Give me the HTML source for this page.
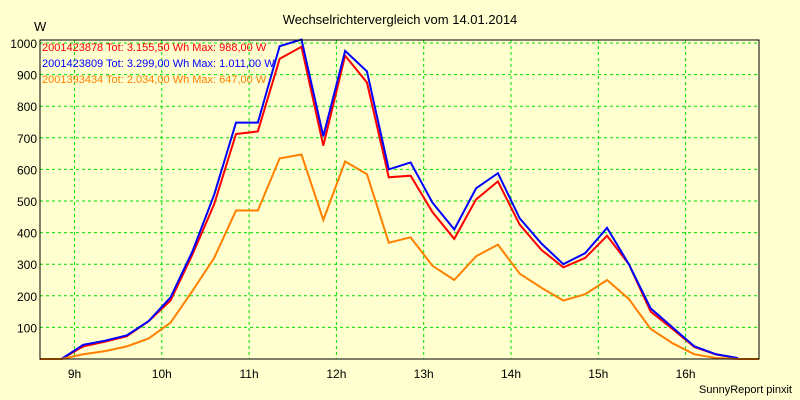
<!DOCTYPE html>
<html><head><meta charset="utf-8"><style>
body{margin:0;background:#ffffd0;}
svg{display:block;font-family:"Liberation Sans",sans-serif;}
</style></head><body>
<svg width="800" height="400">
<rect x="0" y="0" width="800" height="400" fill="#ffffd0"/>
<text x="400" y="24" font-size="13" text-anchor="middle" fill="#000">Wechselrichtervergleich vom 14.01.2014</text>
<text x="34" y="31" font-size="13" fill="#000">W</text>
<text x="792" y="393" font-size="11" text-anchor="end" fill="#000">SunnyReport pinxit</text>
<g id="grid"></g>
<g id="series"></g>
<rect x="40" y="40" width="719" height="319" fill="none" stroke="#000" stroke-width="1"/>
<g id="labels"></g>
<g font-size="11">
<text x="42" y="51" fill="#ff0000">2001423878 Tot: 3.155,50 Wh Max: 988,00 W</text>
<text x="42" y="67" fill="#0000ff">2001423809 Tot: 3.299,00 Wh Max: 1.011,00 W</text>
<text x="42" y="83" fill="#ff8000">2001393434 Tot: 2.034,00 Wh Max: 647,00 W</text>
</g>
</svg>
<script>
const times = [8.6,8.85,9.1,9.35,9.6,9.85,10.1,10.35,10.6,10.85,11.1,11.35,11.6,11.85,12.1,12.35,12.6,12.85,13.1,13.35,13.6,13.85,14.1,14.35,14.6,14.85,15.1,15.35,15.6,15.85,16.1,16.35,16.6];
const redVals = [0,0,40,55,72,120,185,330,490,712,720,950,988,675,960,875,575,580,465,380,505,562,425,345,290,320,390,300,150,95,38,14,3];
const blueVals = [0,0,45,58,75,120,195,340,520,748,748,990,1011,705,975,910,600,622,495,410,540,588,445,365,300,335,415,300,160,100,40,15,3];
const orangeVals = [0,0,15,25,40,65,115,215,320,470,470,635,647,440,625,585,368,385,295,250,325,362,270,225,185,205,250,190,95,50,15,3,0];
const yTicks = [100,200,300,400,500,600,700,800,900,1000];
const xTicks = [9,10,11,12,13,14,15,16];
const xEnd = 16.84;
function xs(h){return 74.5+(h-9)*87.3;}
function ys(v){return 359-v*0.316;}
const NS="http://www.w3.org/2000/svg";
const grid=document.getElementById('grid'), lab=document.getElementById('labels'), ser=document.getElementById('series');
yTicks.forEach(v=>{
  const l=document.createElementNS(NS,'line');
  
  
  l.setAttribute('x1',40);l.setAttribute('x2',759);l.setAttribute('y1',ys(v));l.setAttribute('y2',ys(v));
  l.setAttribute('stroke','#00e000');l.setAttribute('stroke-dasharray','3,3');
  grid.appendChild(l);
  const t=document.createElementNS(NS,'text');
  
  
  t.setAttribute('x',37);t.setAttribute('y',ys(v)+5);t.setAttribute('text-anchor','end');t.setAttribute('font-size','12');
  t.textContent=v;lab.appendChild(t);
});
xTicks.forEach(h=>{
  const l=document.createElementNS(NS,'line');
  
  
  l.setAttribute('x1',xs(h));l.setAttribute('x2',xs(h));l.setAttribute('y1',40);l.setAttribute('y2',359);
  l.setAttribute('stroke','#00e000');l.setAttribute('stroke-dasharray','3,3');
  grid.appendChild(l);
  const t=document.createElementNS(NS,'text');
  
  
  t.setAttribute('x',xs(h));t.setAttribute('y',378);t.setAttribute('text-anchor','middle');t.setAttribute('font-size','12');
  t.textContent=h+'h';lab.appendChild(t);
});
function drawLine(vals,color,name,extend){
  let pts=vals.map((v,i)=>xs(times[i])+','+ys(v));
  if(extend) pts.push(xs(xEnd)+','+ys(0));
  const p=document.createElementNS(NS,'polyline');
  
  
  p.setAttribute('points',pts.join(' '));
  p.setAttribute('fill','none');p.setAttribute('stroke',color);p.setAttribute('stroke-width','2');
  ser.appendChild(p);
}
drawLine(redVals,'#ff0000','series-red-line',false);
drawLine(blueVals,'#0000ff','series-blue-line',false);
drawLine(orangeVals,'#ff8000','series-orange-line',true);
</script>
</body></html>
